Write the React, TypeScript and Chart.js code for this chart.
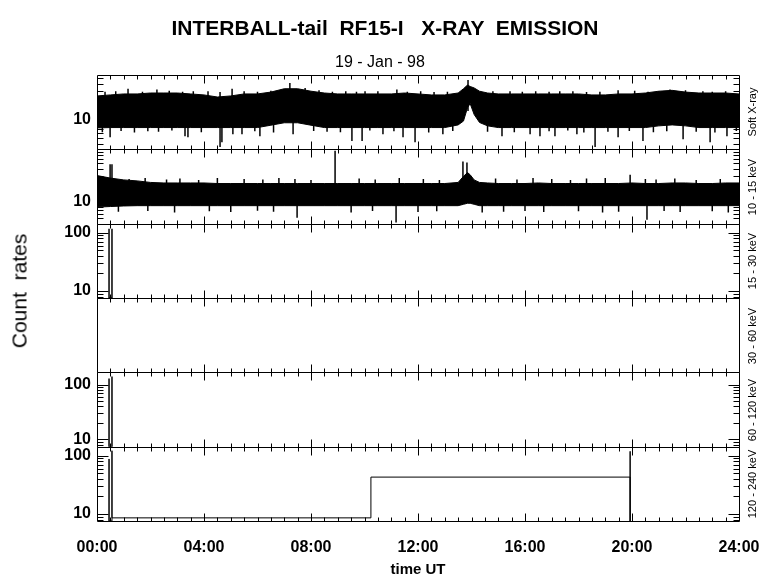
import React, { useEffect, useRef } from 'react';
import { Chart, registerables } from 'chart.js';

Chart.register(...registerables);

// ---------- data ----------
const hourLabels = ['00:00', '04:00', '08:00', '12:00', '16:00', '20:00', '24:00'];
const panelLabels = ['Soft X-ray', '10 - 15 keV', '15 - 30 keV', '30 - 60 keV', '60 - 120 keV', '120 - 240 keV'];

// y ranges of the six panels (count rates, log scale)
const panelMin = [3.2, 4, 7.6, 0, 7.4, 7.6];
const panelMax = [56, 90, 143, 1, 167, 143];

// time grid of the noise band envelopes (hours UT)
const bandTimes = [
  0, 0.5, 1, 1.5, 2, 2.5, 3, 3.5, 4, 4.5, 5, 5.5, 6, 6.5, 7, 7.5, 8, 8.5, 9, 9.5, 10, 10.5, 11, 11.5, 12, 12.5, 13, 13.5,
  13.7, 13.85, 13.95, 14.1, 14.3, 14.6,
  15, 15.5, 16, 16.5, 17, 17.5, 18, 18.5, 19, 19.5, 20, 20.5, 21, 21.5, 22, 22.5, 23, 23.5, 24,
];

// Soft X-ray: dense band, upper and lower edges
const softUpper = [
  25, 26, 27, 27, 28, 28, 28, 27, 26, 24, 25, 27, 27, 29, 33, 33, 30, 28, 27, 27, 27, 27, 27, 28, 27, 26, 26, 28,
  33, 38, 36, 34, 30, 28,
  27, 27, 27, 27, 27, 27, 27, 26, 26, 27, 27, 28, 30, 31, 29, 28, 28, 28, 27,
];
const softLower = [
  7.3, 7.4, 7.4, 7.4, 7.4, 7.4, 7.4, 7.4, 7.4, 7.4, 7.4, 7.4, 7.4, 8.1, 8.9, 8.9, 8.1, 7.4, 7.4, 7.4, 7.4, 7.4, 7.4, 7.4, 7.4, 7.4, 7.4, 8.2,
  9.5, 15.9, 18.6, 12.2, 9.0, 7.9,
  7.4, 7.4, 7.4, 7.4, 7.4, 7.4, 7.4, 7.4, 7.4, 7.4, 7.4, 7.4, 7.9, 8.2, 7.9, 7.4, 7.4, 7.4, 7.4,
];
// Soft X-ray: isolated spikes beyond the band (time, tip value)
const softSpikeTimes = [
  0.49, 3.29, 3.4, 4.6, 4.67, 5.08, 5.42, 6.09, 7.33, 9.53, 9.91, 10.69, 11.44, 11.89, 12.93, 15.14, 16.19, 16.56, 17.12, 17.94, 18.62, 19.48, 20.41, 21.91, 22.92, 23.55,
  0.2, 0.9, 1.4, 1.9, 2.3, 2.8, 3.9, 5.9, 6.6, 8.1, 8.6, 9.1, 10.2, 11.1, 12.4, 13.3, 14.6, 15.6, 16.9, 17.6, 18.2, 19.1, 19.9, 20.8, 21.3, 22.4, 23.1, 23.9,
  1.16, 2.24, 4.15, 5.05, 7.21, 7.78, 10.02, 11.21, 13.87, 15.44, 17.79, 19.48, 21.42, 22.65,
  0.3, 0.7, 1.7, 2.7, 3.2, 3.6, 4.6, 5.5, 6.0, 6.5, 8.3, 8.8, 9.3, 9.7, 10.5, 11.6, 12.1, 12.6, 13.1, 14.8, 15.9, 16.4, 16.9, 17.3, 18.3, 18.8, 20.1, 20.6, 21.0, 22.0, 23.0, 23.5,
];
const softSpikeValues = [
  5.1, 5.3, 5.1, 3.5, 4.2, 5.7, 5.7, 5.3, 5.7, 4.4, 4.4, 5.7, 5.1, 4.2, 5.7, 5.3, 5.7, 5.3, 5.3, 5.7, 3.5, 5.1, 4.4, 4.7, 4.2, 5.3,
  6.2, 6.5, 6.1, 6.4, 6.3, 6.6, 6.2, 6.4, 6.1, 6.5, 6.3, 6.2, 6.6, 6.4, 6.1, 6.5, 6.3, 6.2, 6.4, 6.6, 6.1, 6.3, 6.5, 6.2, 6.4, 6.3, 6.1, 6.5,
  33, 32, 30, 33, 41, 34, 30, 32, 46, 30, 30, 31, 32, 30,
  29.5, 30, 29.5, 30.5, 29.5, 30, 29, 30, 29.5, 30.5, 31, 29.5, 30, 29.5, 30, 29.5, 30, 29, 29.5, 30, 29.5, 30, 29.5, 30, 29, 29.5, 30.5, 29.5, 30, 31, 29.5, 30,
];

// 10 - 15 keV: dense band, upper and lower edges
const lowUpper = [
  30, 27, 25, 24, 22.5, 22, 22, 22, 22, 21.5, 21.5, 21.5, 21.5, 21.5, 21.5, 21.5, 21.5, 21.5, 21.5, 21.5, 21.5, 21.5, 21.5, 21.5, 21.5, 21.5, 21.5, 22.5,
  29, 34, 31, 25, 22.5, 22,
  21.5, 21.5, 21.5, 22, 21.5, 21.5, 21.5, 21.5, 21.5, 21.5, 22, 21.5, 21.5, 22, 22, 21.5, 21.5, 22, 22,
];
const lowLower = [
  8.0, 8.2, 8.4, 8.5, 8.5, 8.5, 8.5, 8.5, 8.5, 8.5, 8.5, 8.5, 8.5, 8.5, 8.5, 8.5, 8.5, 8.5, 8.5, 8.5, 8.5, 8.5, 8.5, 8.5, 8.5, 8.5, 8.5, 8.5,
  9.0, 9.4, 9.4, 9.0, 8.5, 8.5,
  8.5, 8.5, 8.5, 8.5, 8.5, 8.5, 8.5, 8.5, 8.5, 8.5, 8.5, 8.5, 8.5, 8.5, 8.5, 8.5, 8.5, 8.5, 8.5,
];
const lowSpikeTimes = [
  0.49, 0.56, 8.9, 13.68, 13.83, 19.93,
  1.2, 1.8, 2.6, 3.1, 3.8, 4.5, 5.5, 6.2, 6.8, 7.4, 8.0, 9.8, 10.4, 11.3, 12.2, 12.8, 14.9, 15.7, 16.3, 17.0, 17.7, 18.3, 19.0, 20.5, 20.9, 21.6, 22.4, 23.3,
  7.48, 11.18, 20.56,
  0.8, 1.9, 2.9, 4.2, 5.0, 6.0, 6.6, 9.5, 10.3, 12.0, 12.7, 14.4, 15.2, 16.0, 16.7, 18.0, 18.9, 19.5, 21.2, 21.8, 23.0, 23.6,
];
const lowSpikeValues = [
  48, 48, 85, 54, 52, 31,
  26, 27, 25.5, 26.5, 25, 27, 26, 25.5, 27, 26, 25, 26.5, 25.5, 27, 26, 25, 26.5, 25.5, 27, 26, 25, 26.5, 27, 26, 25.5, 26.5, 25, 26,
  5.1, 4.2, 4.7,
  6.6, 6.8, 6.4, 6.7, 6.5, 6.9, 6.6, 6.4, 6.8, 6.5, 6.7, 6.4, 6.6, 6.8, 6.5, 6.7, 6.4, 6.6, 6.8, 6.5, 6.7, 6.4,
];

// 15 - 30 keV, 60 - 120 keV, 120 - 240 keV traces (time, count rate)
const midTimes = [0.45, 0.45, 0.45, 0.56, 0.56, 0.56];
const midValues = [7.6, 117, 7.6, 7.6, 117, 7.6];
const highTimes = [0.45, 0.45, 0.45, 0.56, 0.56, 0.56];
const highValues = [7.4, 129, 7.4, 7.4, 140, 7.4];
const topTimes = [0.45, 0.45, 0.45, 0.56, 0.56, 0.56, 10.24, 10.24, 19.93, 19.93, 19.93];
const topValues = [7.6, 88, 7.6, 7.6, 122, 8.6, 8.6, 43, 43, 119, 7.6];

// ---------- helpers ----------
const SOFT_MID = 14;
const LOW_MID = 14;
const FONT = "'Liberation Sans', Arial, Helvetica, sans-serif";
const axisIds = ['y1', 'y2', 'y3', 'y4', 'y5', 'y6'];

const pts = (xs: number[], ys: number[]) => xs.map((x, i) => ({ x, y: ys[i] }));
const spikes = (xs: number[], ys: number[], mid: number) => {
  const out: any[] = [];
  xs.forEach((x, i) => {
    out.push({ x, y: mid }, { x, y: ys[i] }, { x, y: null });
  });
  return out;
};

const lineDs = (data: any[], yAxisID: string, extra: any = {}) => ({
  type: 'line',
  data,
  xAxisID: 'x',
  yAxisID,
  borderColor: '#000',
  backgroundColor: '#000',
  borderWidth: 1,
  pointRadius: 0,
  tension: 0,
  spanGaps: false,
  fill: false,
  ...extra,
});

const framePlugin = {
  id: 'panelFrames',
  afterDatasetsDraw(chart: any) {
    const { ctx, chartArea } = chart;
    const xs = chart.scales.x;
    const left = Math.round(chartArea.left) + 0.5;
    const right = Math.round(chartArea.right) + 0.5;
    ctx.save();
    ctx.strokeStyle = '#000';
    ctx.lineWidth = 1;
    axisIds.forEach((id, p) => {
      const ys = chart.scales[id];
      const top = Math.round(ys.top) + 0.5;
      const bottom = Math.round(ys.bottom) + 0.5;
      ctx.beginPath();
      ctx.rect(left, top, right - left, bottom - top);
      // time ticks every 30 min, major every 4 h, pointing inward
      for (let m = 1; m < 48; m++) {
        const px = Math.round(xs.getPixelForValue(m / 2)) + 0.5;
        const len = m % 8 === 0 ? 8 : 4;
        ctx.moveTo(px, top);
        ctx.lineTo(px, top + len);
        ctx.moveTo(px, bottom);
        ctx.lineTo(px, bottom - len);
      }
      // log ticks on both sides
      if (ys.type === 'logarithmic') {
        const lo = panelMin[p];
        const hi = panelMax[p];
        for (let e = Math.floor(Math.log10(lo)); e <= Math.ceil(Math.log10(hi)); e++) {
          for (let k = 1; k <= 9; k++) {
            const v = k * Math.pow(10, e);
            if (v <= lo || v >= hi) continue;
            const py = Math.round(ys.getPixelForValue(v)) + 0.5;
            const len = k === 1 ? 11 : 6;
            ctx.moveTo(left, py);
            ctx.lineTo(left + len, py);
            ctx.moveTo(right, py);
            ctx.lineTo(right - len, py);
          }
        }
      }
      ctx.stroke();
    });
    ctx.restore();
  },
};

export default function App() {
  const ref = useRef<HTMLCanvasElement | null>(null);

  useEffect(() => {
    if (!ref.current) return;
    Chart.defaults.font.family = FONT;
    Chart.defaults.color = '#000';

    const yScale = (p: number) => {
      const isLog = p !== 3;
      return {
        type: isLog ? 'logarithmic' : 'linear',
        position: 'left',
        stack: 'panels',
        stackWeight: 1,
        weight: 6 - p,
        min: panelMin[p],
        max: panelMax[p],
        grid: { display: false, drawTicks: false },
        border: { display: false },
        afterBuildTicks: (scale: any) => {
          scale.ticks = isLog
            ? [10, 100].filter((v) => v > panelMin[p] && v < panelMax[p]).map((v) => ({ value: v }))
            : [];
        },
        afterFit: (scale: any) => {
          scale.width = 97;
        },
        ticks: {
          display: isLog,
          autoSkip: false,
          padding: 6,
          font: { size: 16, weight: 'bold', family: FONT },
          color: '#000',
          callback: (v: any) => String(v),
        },
      };
    };

    const scales: any = {
      x: {
        type: 'linear',
        position: 'bottom',
        min: 0,
        max: 24,
        grid: { display: false, drawTicks: false },
        border: { display: false },
        afterBuildTicks: (scale: any) => {
          scale.ticks = hourLabels.map((_, i) => ({ value: i * 4 }));
        },
        afterFit: (scale: any) => {
          scale.height = 58;
        },
        ticks: {
          autoSkip: false,
          maxRotation: 0,
          padding: 17,
          font: { size: 16, weight: 'bold', family: FONT },
          color: '#000',
          callback: (v: any) => hourLabels[Math.round(Number(v) / 4)],
        },
      },
    };
    axisIds.forEach((id, p) => {
      scales[id] = yScale(p);
    });

    const chart = new Chart(ref.current, {
      type: 'line',
      data: {
        datasets: [
          lineDs(pts(bandTimes, softUpper), 'y1', { fill: '+1' }),
          lineDs(pts(bandTimes, softLower), 'y1'),
          lineDs(spikes(softSpikeTimes, softSpikeValues, SOFT_MID), 'y1', { borderWidth: 1.5 }),
          lineDs(pts(bandTimes, lowUpper), 'y2', { fill: '+1' }),
          lineDs(pts(bandTimes, lowLower), 'y2'),
          lineDs(spikes(lowSpikeTimes, lowSpikeValues, LOW_MID), 'y2', { borderWidth: 1.5 }),
          lineDs(pts(midTimes, midValues), 'y3', { borderWidth: 1.5 }),
          lineDs(pts(highTimes, highValues), 'y5', { borderWidth: 1.5 }),
          lineDs(pts(topTimes, topValues), 'y6'),
        ] as any,
      },
      options: {
        responsive: false,
        animation: false,
        events: [],
        layout: { padding: { top: 75, right: 41, bottom: 0, left: 0 } },
        plugins: { legend: { display: false }, tooltip: { enabled: false }, title: { display: false } },
        scales,
      } as any,
      plugins: [framePlugin],
    });
    return () => chart.destroy();
  }, []);

  const abs = (extra: React.CSSProperties): React.CSSProperties => ({
    position: 'absolute',
    fontFamily: FONT,
    color: '#000',
    whiteSpace: 'pre',
    lineHeight: 1,
    ...extra,
  });
  const panelCenters = [112, 187, 261, 336, 410, 484];

  return (
    <div style={{ position: 'fixed', left: 0, top: 0, width: 780, height: 579, background: '#fff', overflow: 'hidden' }}>
      <canvas ref={ref} width={780} height={579} style={{ position: 'absolute', left: 0, top: 0 }} />
      <div style={abs({ left: 385, top: 27, transform: 'translate(-50%, -50%)', fontSize: 21, fontWeight: 'bold' })}>
        {'INTERBALL-tail  RF15-I   X-RAY  EMISSION'}
      </div>
      <div style={abs({ left: 380, top: 62, transform: 'translate(-50%, -50%)', fontSize: 16 })}>{'19 - Jan - 98'}</div>
      <div style={abs({ left: 19, top: 291, transform: 'translate(-50%, -50%) rotate(-90deg)', fontSize: 21 })}>
        {'Count  rates'}
      </div>
      <div style={abs({ left: 418, top: 568, transform: 'translate(-50%, -50%)', fontSize: 15, fontWeight: 'bold' })}>
        {'time UT'}
      </div>
      {panelLabels.map((t, i) => (
        <div
          key={t}
          style={abs({ left: 752, top: panelCenters[i], transform: 'translate(-50%, -50%) rotate(-90deg)', fontSize: 11 })}
        >
          {t}
        </div>
      ))}
    </div>
  );
}
